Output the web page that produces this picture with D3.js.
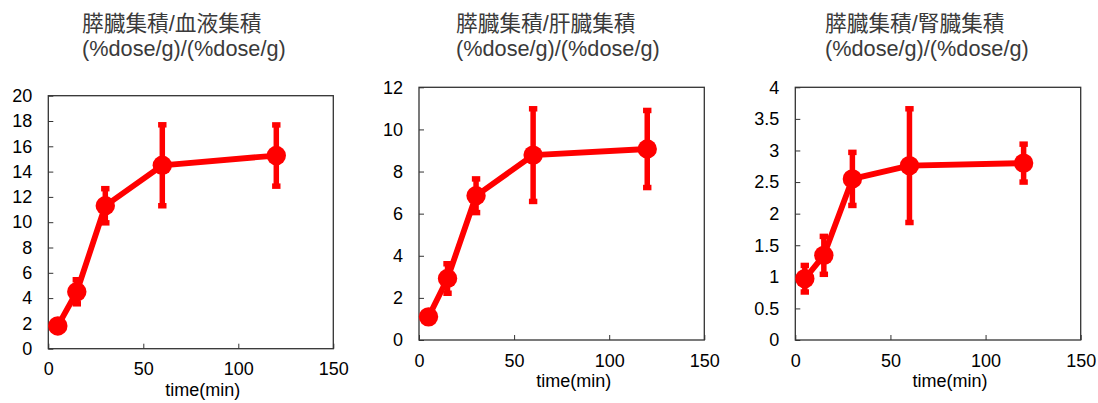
<!DOCTYPE html>
<html>
<head>
<meta charset="utf-8">
<script src="https://cdn.jsdelivr.net/npm/d3@7"></script>
<style>
  body { margin: 0; background: #fff; }
  svg { display: block; }
  text { font-family: "Liberation Sans", Arial, "Noto Sans CJK JP", sans-serif; }
  .title { fill: #3a3a3a; font-size: 21.7px; }
  .axis text { fill: #000; font-size: 18px; }
  .axis path { display: none; }
  .axis line { stroke: #333; }
</style>
</head>
<body>
<div id="chart"></div>
<script>
// sampling times (min)
var times = [5, 15, 30, 60, 120];

// pancreas / blood
var bloodMean = [1.8, 4.5, 11.3, 14.5, 15.27];
var bloodErr = [0.3, 0.95, 1.35, 3.2, 2.42];

// pancreas / liver
var liverMean = [1.1, 2.92, 6.85, 8.78, 9.07];
var liverErr = [0.2, 0.7, 0.8, 2.2, 1.83];

// pancreas / kidney
var kidneyMean = [0.97, 1.34, 2.55, 2.76, 2.8];
var kidneyErr = [0.21, 0.3, 0.42, 0.9, 0.3];

var titles = ["膵臓集積/血液集積", "膵臓集積/肝臓集積", "膵臓集積/腎臓集積"];
var unitLabel = "(%dose/g)/(%dose/g)";
var xLabel = "time(min)";
var xTicks = [0, 50, 100, 150];
var yTicksBlood = [0, 2, 4, 6, 8, 10, 12, 14, 16, 18, 20];
var yTicksLiver = [0, 2, 4, 6, 8, 10, 12];
var yTicksKidney = [0, 0.5, 1, 1.5, 2, 2.5, 3, 3.5, 4];

var red = "#ff0000";

var svg = d3.select("#chart").append("svg")
  .attr("width", 1098)
  .attr("height", 403);

// one small panel per organ ratio
function drawPanel(opt) {
  var g = svg.append("g");

  var x = d3.scaleLinear().domain([0, 150]).range([opt.left, opt.right]);
  var y = d3.scaleLinear().domain([0, d3.max(opt.yTicks)]).range([opt.bottom, opt.top]);

  // title, two lines
  g.append("text").attr("class", "title")
    .attr("x", opt.titleX).attr("y", 30.5)
    .text(opt.title);
  g.append("text").attr("class", "title")
    .attr("x", opt.titleX).attr("y", 56)
    .text(unitLabel);

  // axes with ticks pointing inward
  g.append("g").attr("class", "axis")
    .attr("transform", "translate(" + opt.left + ",0)")
    .call(d3.axisLeft(y).tickValues(opt.yTicks).tickSizeInner(-5).tickSizeOuter(0).tickPadding(16)
      .tickFormat(d3.format("~g")));

  g.append("g").attr("class", "axis")
    .attr("transform", "translate(0," + opt.bottom + ")")
    .call(d3.axisBottom(x).tickValues(xTicks).tickSizeInner(-5).tickSizeOuter(0).tickPadding(14));

  // frame
  g.append("rect")
    .attr("x", opt.left).attr("y", opt.top)
    .attr("width", opt.right - opt.left).attr("height", opt.bottom - opt.top)
    .attr("fill", "none").attr("stroke", "#333").attr("stroke-width", 1.3);

  g.append("text")
    .attr("x", (opt.left + opt.right) / 2 + 12)
    .attr("y", opt.bottom + 47)
    .attr("text-anchor", "middle")
    .style("font-size", "18px")
    .text(xLabel);

  var data = times.map(function (t, i) {
    return { t: t, v: opt.mean[i], e: opt.err[i] };
  });

  // error bars
  var eb = g.selectAll(".err").data(data).enter().append("g").attr("class", "err");
  eb.append("line")
    .attr("x1", function (d) { return x(d.t); })
    .attr("x2", function (d) { return x(d.t); })
    .attr("y1", function (d) { return y(d.v - d.e); })
    .attr("y2", function (d) { return y(d.v + d.e); })
    .attr("stroke", red).attr("stroke-width", 5.5);
  [1, -1].forEach(function (s) {
    eb.append("line")
      .attr("x1", function (d) { return x(d.t) - 4.2; })
      .attr("x2", function (d) { return x(d.t) + 4.2; })
      .attr("y1", function (d) { return y(d.v + s * d.e); })
      .attr("y2", function (d) { return y(d.v + s * d.e); })
      .attr("stroke", red).attr("stroke-width", 5.5);
  });

  // line
  var line = d3.line()
    .x(function (d) { return x(d.t); })
    .y(function (d) { return y(d.v); });
  g.append("path").datum(data)
    .attr("d", line)
    .attr("fill", "none").attr("stroke", red)
    .attr("stroke-width", 5.8).attr("stroke-linejoin", "round");

  // markers
  g.selectAll(".dot").data(data).enter().append("circle")
    .attr("class", "dot")
    .attr("cx", function (d) { return x(d.t); })
    .attr("cy", function (d) { return y(d.v); })
    .attr("r", 9.7)
    .attr("fill", red);
}

drawPanel({ title: titles[0], titleX: 82, left: 48.3, right: 333.3, top: 95.7, bottom: 348.7,
  yTicks: yTicksBlood, mean: bloodMean, err: bloodErr });
drawPanel({ title: titles[1], titleX: 456, left: 419, right: 704.3, top: 87.3, bottom: 340,
  yTicks: yTicksLiver, mean: liverMean, err: liverErr });
drawPanel({ title: titles[2], titleX: 825, left: 795.3, right: 1080.7, top: 87.3, bottom: 340,
  yTicks: yTicksKidney, mean: kidneyMean, err: kidneyErr });
</script>
</body>
</html>
